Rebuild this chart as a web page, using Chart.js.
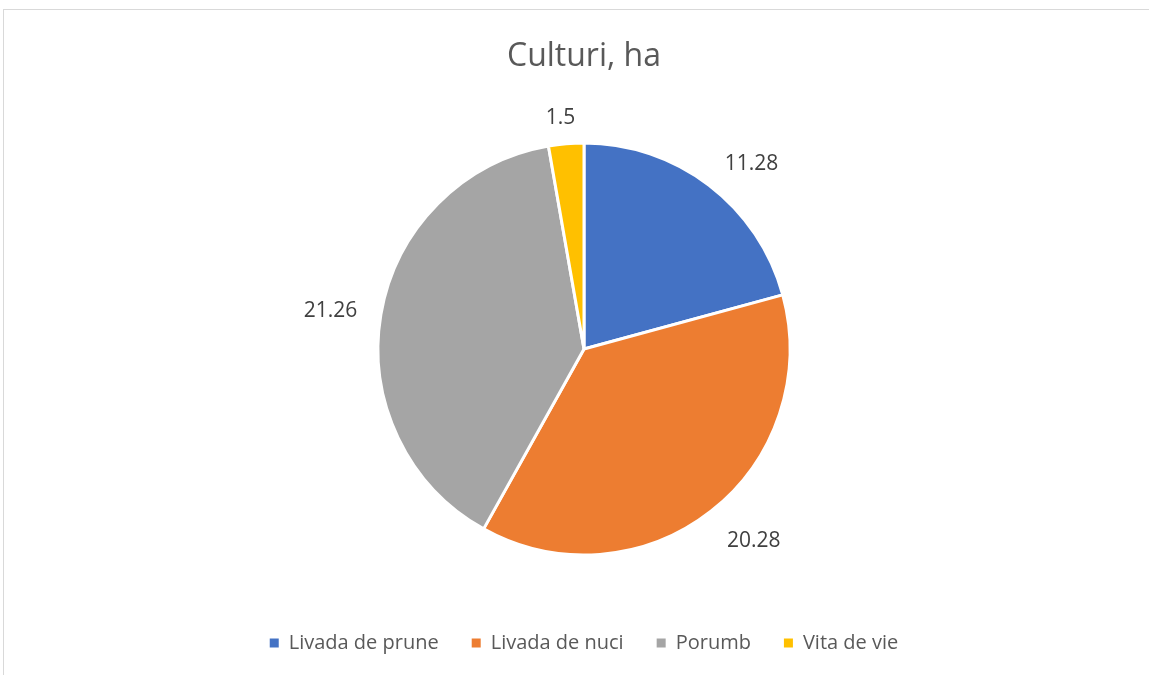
<!DOCTYPE html>
<html>
<head>
<meta charset="utf-8">
<script src="https://cdn.jsdelivr.net/npm/chart.js@4"></script>
<style>
  body { margin: 0; background: #fff; overflow: hidden; }
  .frame { position: absolute; left: 3px; top: 9px; width: 1200px; height: 700px; border: 1px solid #d9d9d9; }
  .wrap { position: absolute; left: 0; top: 0; width: 1149px; height: 675px; }
</style>
</head>
<body>
<div class="frame"></div>
<div class="wrap"><canvas id="c" width="1149" height="675"></canvas></div>
<script>
const categories = ["Livada de prune", "Livada de nuci", "Porumb", "Vita de vie"];
const values = [11.28, 20.28, 21.26, 1.5];
const colors = ["#4472C4", "#ED7D31", "#A5A5A5", "#FFC000"];

/* value labels outside each slice: nearest corner of the text box sits on a ring just past the pie */
const outsideLabels = {
  id: "outsideLabels",
  afterDatasetsDraw(chart) {
    const ctx = chart.ctx;
    const meta = chart.getDatasetMeta(0);
    ctx.save();
    ctx.font = "21px 'Open Sans'";
    ctx.fillStyle = "#404040";
    ctx.textAlign = "center";
    ctx.textBaseline = "middle";
    meta.data.forEach((arc, i) => {
      const a = (arc.startAngle + arc.endAngle) / 2;
      const txt = String(values[i]);
      const hw = ctx.measureText(txt).width / 2 + 3;
      const hh = 9;
      const d = arc.outerRadius + 21;
      const cx = Math.max(-1, Math.min(1, Math.cos(a) * 2.5));
      const cy = Math.max(-1, Math.min(1, Math.sin(a) * 2.5));
      const x = arc.x + d * Math.cos(a) + hw * cx;
      const y = arc.y + d * Math.sin(a) + hh * cy + 4;
      ctx.fillText(txt, x, y);
    });
    ctx.restore();
  },
};

const pieLabels = Chart.controllers.pie.overrides.plugins.legend.labels.generateLabels;

new Chart(document.getElementById("c"), {
  type: "pie",
  data: {
    labels: categories,
    datasets: [
      {
        data: values,
        backgroundColor: colors,
        borderColor: "#ffffff",
        borderWidth: 3,
      },
    ],
  },
  options: {
    responsive: false,
    animation: false,
    radius: 206,
    layout: {
      padding: { left: 22, right: 3, top: 0, bottom: 12 },
    },
    plugins: {
      title: {
        display: true,
        text: "Culturi, ha",
        color: "#595959",
        font: { family: "Open Sans", size: 32, weight: "normal" },
        padding: { top: 38, bottom: 21.6 },
      },
      legend: {
        position: "bottom",
        labels: {
          color: "#595959",
          font: { family: "Open Sans", size: 20 },
          boxWidth: 9,
          boxHeight: 9,
          padding: 33,
          generateLabels(chart) {
            return pieLabels(chart).map((item) => ({ ...item, lineWidth: 0 }));
          },
        },
      },
      tooltip: { enabled: false },
    },
  },
  plugins: [outsideLabels],
});
</script>
</body>
</html>
